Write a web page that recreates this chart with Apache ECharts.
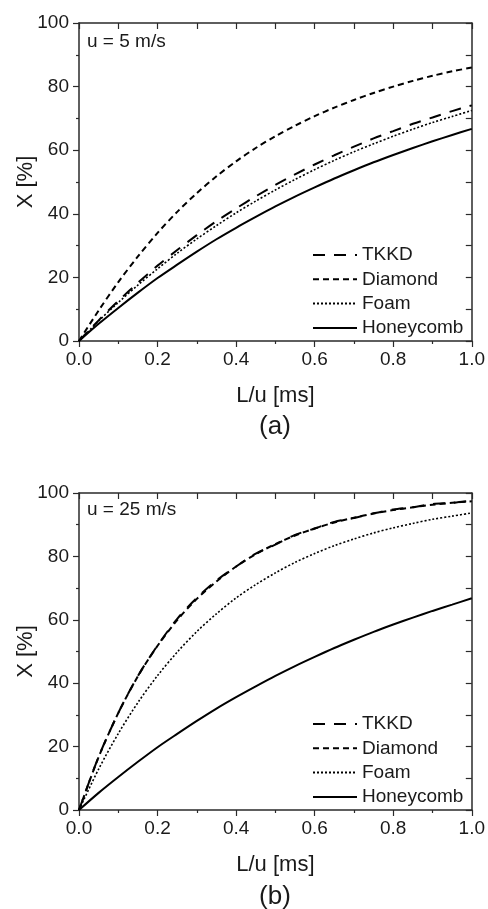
<!DOCTYPE html>
<html>
<head>
<meta charset="utf-8">
<script src="https://cdn.jsdelivr.net/npm/echarts@6/dist/echarts.min.js"></script>
<style>
html,body{margin:0;padding:0;background:#fff;}
#c{width:488px;height:909px;}
</style>
</head>
<body>
<div id="c"></div>
<script>
// L/u [ms]
var xs = [0,0.05,0.1,0.15,0.2,0.25,0.3,0.35,0.4,0.45,0.5,0.55,0.6,0.65,0.7,0.75,0.8,0.85,0.9,0.95,1.0];
var seriesNames = ['TKKD','Diamond','Foam','Honeycomb'];
var xTicks = [0,0.2,0.4,0.6,0.8,1.0];
var yTicks = [0,20,40,60,80,100];
// (a) u = 5 m/s
var tkkd5    = [0,6.5,12.6,18.3,23.7,28.6,33.3,37.7,41.7,45.5,49.1,52.4,55.5,58.4,61.1,63.7,66.0,68.3,70.3,72.3,74.1];
var diamond5 = [0,9.6,18.5,26.6,34.0,40.6,46.5,51.8,56.5,60.7,64.4,67.7,70.7,73.4,75.8,78.0,80.0,81.8,83.4,84.8,86.0];
var foam5    = [0,6.3,12.1,17.6,22.7,27.6,32.1,36.3,40.3,44.0,47.5,50.8,53.9,56.8,59.5,62.0,64.4,66.6,68.7,70.6,72.5];
var honey5   = [0,5.4,10.4,15.2,19.8,24.0,28.1,32.0,35.6,39.0,42.3,45.4,48.3,51.1,53.7,56.2,58.5,60.7,62.8,64.8,66.7];
// (b) u = 25 m/s
var tkkd25    = [0,16.8,30.6,42.3,51.9,60.3,66.9,72.4,76.8,80.9,83.7,86.8,88.8,90.9,92.1,93.6,94.8,95.5,96.5,96.9,97.6];
var diamond25 = [0,16.7,30.6,42.2,51.8,59.9,66.6,72.1,76.8,80.7,83.9,86.6,88.8,90.7,92.2,93.5,94.6,95.5,96.3,96.9,97.4];
var foam25    = [0,12.9,24.1,33.9,42.4,49.8,56.3,61.9,66.9,71.1,74.8,78.1,80.9,83.4,85.5,87.4,89.0,90.4,91.7,92.7,93.7];
var honey25   = [0,5.4,10.4,15.2,19.8,24.0,28.1,32.0,35.6,39.0,42.3,45.4,48.3,51.1,53.7,56.2,58.5,60.7,62.8,64.8,66.8];

function pairs(ys){ return xs.map(function(x,i){ return [x, ys[i]]; }); }

var FONT = '"Liberation Sans", Arial, sans-serif';
var AXC = '#2a2a2a';
var TXT = '#1a1a1a';

var grids = [
  {left:79, top:23, width:394, height:318},
  {left:79, top:493, width:394, height:317}
];

var xAxes = [], yAxes = [];
grids.forEach(function(g, gi){
  xAxes.push({
    type:'value', gridIndex:gi, position:'bottom', min:0, max:1, interval:0.2,
    name:'L/u [ms]', nameLocation:'middle', nameGap:44, nameMoveOverlap:false,
    nameTextStyle:{fontFamily:FONT, fontSize:22, color:TXT},
    axisLine:{show:true, onZero:false, lineStyle:{color:AXC, width:1.5}},
    axisTick:{show:true, inside:false, length:6, lineStyle:{color:AXC, width:1.2}},
    minorTick:{show:true, splitNumber:2, length:3, lineStyle:{color:AXC, width:1.2}},
    splitLine:{show:false},
    axisLabel:{margin:9, fontFamily:FONT, fontSize:19, color:TXT,
      formatter:function(v){ return v.toFixed(1); }}
  });
  xAxes.push({
    type:'value', gridIndex:gi, position:'top', min:0, max:1, interval:0.2,
    axisLine:{show:true, onZero:false, lineStyle:{color:AXC, width:1.5}},
    axisTick:{show:true, inside:true, length:6, lineStyle:{color:AXC, width:1.2}},
    minorTick:{show:true, splitNumber:2, length:6, lineStyle:{color:AXC, width:1.2}},
    splitLine:{show:false}, axisLabel:{show:false}
  });
  yAxes.push({
    type:'value', gridIndex:gi, position:'left', min:0, max:100, interval:20,
    name:'X [%]', nameLocation:'middle', nameGap:42, nameMoveOverlap:false,
    nameTextStyle:{fontFamily:FONT, fontSize:22, color:TXT},
    axisLine:{show:true, onZero:false, lineStyle:{color:AXC, width:1.5}},
    axisTick:{show:true, inside:false, length:6, lineStyle:{color:AXC, width:1.2}},
    minorTick:{show:true, splitNumber:2, length:3, lineStyle:{color:AXC, width:1.2}},
    splitLine:{show:false},
    axisLabel:{margin:10, fontFamily:FONT, fontSize:19, color:TXT}
  });
  yAxes.push({
    type:'value', gridIndex:gi, position:'right', min:0, max:100, interval:20,
    axisLine:{show:true, onZero:false, lineStyle:{color:AXC, width:1.5}},
    axisTick:{show:true, inside:true, length:6, lineStyle:{color:AXC, width:1.2}},
    minorTick:{show:true, splitNumber:2, length:6, lineStyle:{color:AXC, width:1.2}},
    splitLine:{show:false}, axisLabel:{show:false}
  });
});

var styles = {
  'TKKD':      {type:[12,9], width:2},
  'Diamond':   {type:[6,4], width:2},
  'Foam':      {type:[2,2], width:1.6},
  'Honeycomb': {type:'solid', width:2}
};

function mk(name, data, gi){
  return {
    type:'line', name:name, xAxisIndex:gi*2, yAxisIndex:gi*2,
    data:pairs(data), showSymbol:false, symbol:'none', smooth:0.3,
    lineStyle:{color:'#000', width:styles[name].width, type:styles[name].type},
    itemStyle:{color:'#000'}, z:3
  };
}

var series = [
  mk('TKKD', tkkd5, 0), mk('Diamond', diamond5, 0), mk('Foam', foam5, 0), mk('Honeycomb', honey5, 0),
  mk('TKKD', tkkd25, 1), mk('Diamond', diamond25, 1), mk('Foam', foam25, 1), mk('Honeycomb', honey25, 1)
];

function legend(top){
  return {
    orient:'vertical', left:307, top:top, itemWidth:44, itemHeight:14, itemGap:5.3,
    data:seriesNames, selectedMode:false,
    itemStyle:{opacity:0},
    textStyle:{fontFamily:FONT, fontSize:19, color:TXT, lineHeight:19}
  };
}

var chart = echarts.init(document.getElementById('c'), null, {renderer:'canvas'});
chart.setOption({
  animation:false,
  backgroundColor:'#fff',
  grid:grids,
  xAxis:xAxes,
  yAxis:yAxes,
  legend:[legend(240.5), legend(709.5)],
  series:series,
  graphic:[
    {type:'text', left:87, top:32, style:{text:'u = 5 m/s', font:'19px ' + FONT, fill:TXT}},
    {type:'text', left:87, top:500, style:{text:'u = 25 m/s', font:'19px ' + FONT, fill:TXT}},
    {type:'text', x:275, y:427, style:{text:'(a)', font:'26px ' + FONT, fill:TXT, align:'center', verticalAlign:'middle'}},
    {type:'text', x:275, y:897, style:{text:'(b)', font:'26px ' + FONT, fill:TXT, align:'center', verticalAlign:'middle'}}
  ]
});
</script>
</body>
</html>
